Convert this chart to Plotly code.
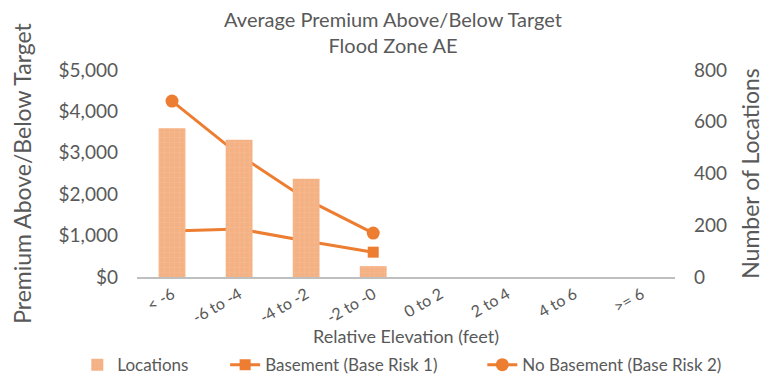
import plotly.graph_objects as go

# colours
ORANGE = '#ED7D31'
BAR = '#F4B183'
GREY = '#595959'

categories = ['< -6', '-6 to -4', '-4 to -2', '-2 to -0', '0 to 2', '2 to 4', '4 to 6', '>= 6']
locations = [575, 530, 380, 42, 0, 0, 0, 0]
basement = [1110, 1160, 870, 600]
no_basement = [4250, 2950, 1880, 1060]

fig = go.Figure()

fig.add_trace(go.Bar(
    x=categories, y=locations, name='Locations', yaxis='y2', legend='legend',
    width=0.4,
    marker=dict(
        color=BAR,
        line=dict(width=0),
        pattern=dict(shape='+', size=5, solidity=0.15, fgcolor='#F8CBAD', bgcolor=BAR),
    ),
))
fig.add_trace(go.Scatter(
    x=categories[:len(basement)], y=basement, name='Basement (Base Risk 1)', legend='legend2',
    mode='lines+markers', line=dict(color=ORANGE, width=3),
    marker=dict(symbol='square', size=11, color=ORANGE),
))
fig.add_trace(go.Scatter(
    x=categories[:len(no_basement)], y=no_basement, name='No Basement (Base Risk 2)', legend='legend3',
    mode='lines+markers', line=dict(color=ORANGE, width=3),
    marker=dict(symbol='circle', size=13, color=ORANGE),
))

# one legend per entry so the row spreads like the original
leg = dict(orientation='h', xref='container', xanchor='left', yref='container',
           y=0.04, yanchor='middle', font=dict(size=17, color=GREY))

# page body has an 8px margin, so the figure is sized a bit smaller
fig.update_layout(
    width=770, height=372,
    margin=dict(l=129, r=103, t=62, b=103),
    paper_bgcolor='white', plot_bgcolor='white',
    font=dict(family='Lato', color=GREY),
    title=dict(
        text='Average Premium Above/Below Target<br>Flood Zone AE',
        x=0.5, xref='container', y=0.948, yref='container', yanchor='top',
        font=dict(size=20, color=GREY),
    ),
    xaxis=dict(
        type='category', tickangle=-30, tickfont=dict(size=16, color=GREY),
        showline=True, linecolor='#BFBFBF', linewidth=2, showgrid=False,
        ticks='', ticklabelstandoff=0, automargin=False,
        title=dict(text='Relative Elevation (feet)', font=dict(size=18, color=GREY), standoff=50),
    ),
    yaxis=dict(
        range=[0, 5000], tickvals=[0, 1000, 2000, 3000, 4000, 5000],
        tickformat='$,.0f', tickfont=dict(size=19, color=GREY), showgrid=False, zeroline=False,
        ticklabelstandoff=18, automargin=False,
        title=dict(text='Premium Above/Below Target', font=dict(size=23, color=GREY), standoff=48),
    ),
    yaxis2=dict(
        overlaying='y', side='right', range=[0, 800], tickvals=[0, 200, 400, 600, 800],
        tickfont=dict(size=19, color=GREY), showgrid=False, zeroline=False,
        ticklabelstandoff=18, automargin=False,
        title=dict(text='Number of Locations', font=dict(size=23, color=GREY), standoff=16),
    ),
    legend=dict(leg, x=0.09),
    legend2=dict(leg, x=0.282),
    legend3=dict(leg, x=0.616),
    showlegend=True,
    bargap=0.6,
)

fig.write_html('out.html')
